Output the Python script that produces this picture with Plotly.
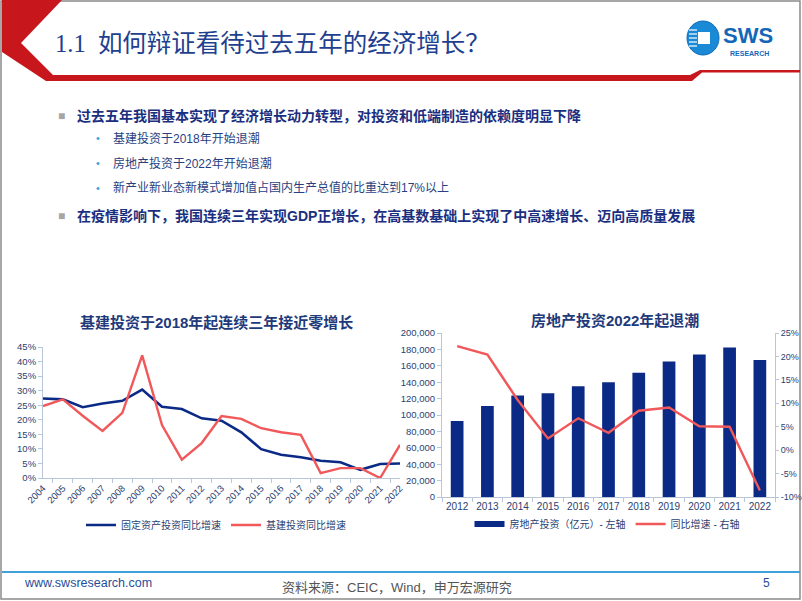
import plotly.graph_objects as go

W, H = 802, 601

# ---------------- data ----------------
years_left = [str(y) for y in range(2004, 2023)]
fai_growth = [27.3, 27.0, 24.3, 25.6, 26.5, 30.4, 24.5, 23.7, 20.5, 19.7,
              15.7, 9.9, 8.0, 7.1, 5.9, 5.4, 2.8, 4.8, 5.0]
infra_growth = [24.7, 27.0, 21.4, 16.2, 22.4, 42.1, 18.2, 6.3, 12.0, 21.3,
                20.3, 17.1, 15.7, 14.8, 1.7, 3.4, 3.4, 0.0, 11.4]

years_right = [str(y) for y in range(2012, 2023)]
re_invest = [92700, 111000, 123700, 126500, 135000, 140000, 151400,
             165300, 173900, 182400, 167000]
re_growth = [22.2, 20.4, 10.7, 2.5, 6.8, 3.7, 8.4, 9.1, 5.1, 5.0, -8.6]

left_ticks = [0, 5, 10, 15, 20, 25, 30, 35, 40, 45]
right_ticks_l = list(range(0, 200001, 20000))
right_ticks_r = [-10, -5, 0, 5, 10, 15, 20, 25]

# ---------------- styles ----------------
NAVY = "#0B2A86"
RED = "#F0585A"
TXT = "#2B4170"
AXC = "#B9C5D8"
FONT = "Liberation Sans, Noto Sans CJK SC, sans-serif"


def px(x):
    return x / W


def py(y):
    return 1 - y / H


fig = go.Figure()

# left chart lines
fig.add_trace(go.Scatter(x=years_left, y=fai_growth, mode="lines",
                         name="固定资产投资同比增速", line=dict(color=NAVY, width=2.6),
                         xaxis="x", yaxis="y", legend="legend", cliponaxis=False))
fig.add_trace(go.Scatter(x=years_left, y=infra_growth, mode="lines",
                         name="基建投资同比增速", line=dict(color=RED, width=2.4),
                         xaxis="x", yaxis="y", legend="legend", cliponaxis=False))

# right chart
fig.add_trace(go.Bar(x=years_right, y=re_invest, name="房地产投资（亿元）- 左轴",
                     marker=dict(color=NAVY, line=dict(width=0)), showlegend=False,
                     xaxis="x2", yaxis="y2"))
# legend entry for the bars drawn as a wide, thick swatch
fig.add_trace(go.Scatter(x=[None], y=[None], mode="lines",
                         name="房地产投资（亿元）- 左轴",
                         line=dict(color=NAVY, width=6),
                         xaxis="x2", yaxis="y2", legend="legend2"))
fig.add_trace(go.Scatter(x=years_right, y=re_growth, mode="lines",
                         name="同比增速 - 右轴", line=dict(color=RED, width=2.4),
                         xaxis="x2", yaxis="y3", legend="legend2", cliponaxis=False))


def axis_common(size=9.5, ticklen=4):
    return dict(showgrid=False, zeroline=False, showline=True, linecolor=AXC,
                linewidth=1, tickfont=dict(size=size, color=TXT, family=FONT),
                ticks="outside", tickcolor=AXC, ticklen=ticklen, automargin=False)


fig.update_layout(
    width=W, height=H,
    margin=dict(l=0, r=0, t=0, b=0, pad=0, autoexpand=False),
    paper_bgcolor="white", plot_bgcolor="rgba(0,0,0,0)",
    font=dict(family=FONT, color=TXT),
    showlegend=True, bargap=0.58,
    xaxis=dict(domain=[px(43), px(400)], anchor="y", type="category",
               tickangle=-45, tickson="boundaries", **axis_common()),
    yaxis=dict(domain=[py(478), py(347)], anchor="x", range=[0, 45],
               tickvals=left_ticks, ticktext=[f"{v}%" for v in left_ticks],
               **axis_common()),
    xaxis2=dict(domain=[px(442), px(775)], anchor="y2", type="category",
                categoryorder="array", categoryarray=years_right,
                tickangle=0, tickson="boundaries", **axis_common(10)),
    yaxis2=dict(domain=[py(497), py(333)], anchor="x2", range=[0, 200000],
                tickvals=right_ticks_l, tickformat=",", **axis_common(9.5)),
    yaxis3=dict(overlaying="y2", side="right", anchor="x2", range=[-10, 25],
                tickvals=right_ticks_r, ticktext=[f"{v}%" for v in right_ticks_r],
                **axis_common(9, 3)),
    legend=dict(orientation="h", x=px(216), xanchor="center", y=py(525),
                yanchor="middle", font=dict(size=10, color=TXT, family=FONT),
                bgcolor="rgba(0,0,0,0)", itemwidth=30, tracegroupgap=0),
    legend2=dict(orientation="h", x=px(607), xanchor="center", y=py(524),
                 yanchor="middle", font=dict(size=10, color=TXT, family=FONT),
                 bgcolor="rgba(0,0,0,0)", itemwidth=30, tracegroupgap=0),
)

shapes = []
# slide frame
shapes.append(dict(type="rect", xref="paper", yref="paper", x0=px(1), x1=px(800),
                   y0=py(599), y1=py(1), line=dict(color="#8A8A8A", width=1.5),
                   fillcolor="rgba(0,0,0,0)", layer="below"))
# red header chevron + band
path = ("M {} {} L {} {} L {} {} L {} {} L {} {} L {} {} L {} {} L {} {} "
        "L {} {} L {} {} L {} {} L {} {} Z").format(
    px(2), py(0), px(62), py(0), px(21), py(43), px(53), py(75),
    px(690), py(75), px(700), py(70), px(800), py(70), px(800), py(72.5),
    px(702), py(72.5), px(692), py(81), px(46), py(81), px(2), py(52))
shapes.append(dict(type="path", xref="paper", yref="paper", path=path,
                   fillcolor="#C8161D", line=dict(width=0)))
# logo circle
shapes.append(dict(type="circle", xref="paper", yref="paper",
                   x0=px(687), x1=px(719), y0=py(55), y1=py(21),
                   fillcolor="#1B8AD6", line=dict(color="#0E6CB8", width=1)))
shapes.append(dict(type="rect", xref="paper", yref="paper",
                   x0=px(698), x1=px(710), y0=py(44), y1=py(32),
                   fillcolor="white", line=dict(width=0)))
for yy in [30, 34, 38, 42, 46]:
    shapes.append(dict(type="line", xref="paper", yref="paper",
                       x0=px(689), x1=px(697), y0=py(yy), y1=py(yy),
                       line=dict(color="white", width=1.2)))
# footer line
shapes.append(dict(type="line", xref="paper", yref="paper", x0=px(2), x1=px(800),
                   y0=py(572), y1=py(572), line=dict(color="#3FA0DA", width=2)))
fig.update_layout(shapes=shapes)

ann = []


def add_text(text, x, y, size, color, bold=False, xanchor="left", family=FONT):
    t = f"<b>{text}</b>" if bold else text
    ann.append(dict(text=t, x=px(x), y=py(y), xref="paper", yref="paper",
                    xanchor=xanchor, yanchor="middle", showarrow=False,
                    font=dict(size=size, color=color, family=family)))


add_text("1.1  如何辩证看待过去五年的经济增长？", 53, 43, 24.5, "#1F3F8F",
         family="Liberation Serif, Noto Sans CJK SC, serif")
add_text("SWS", 721, 36, 22, "#1467B8", bold=True)
add_text("RESEARCH", 728, 53, 7, "#1467B8", bold=True)

add_text("■", 56, 116, 12, "#A6A6A6")
add_text("过去五年我国基本实现了经济增长动力转型，对投资和低端制造的依赖度明显下降",
         75, 116, 14, "#1A2F80", bold=True)
add_text("•", 94, 138, 11, "#3FA0DA")
add_text("基建投资于2018年开始退潮", 111, 138, 12, "#2A3F7F")
add_text("•", 94, 163, 11, "#3FA0DA")
add_text("房地产投资于2022年开始退潮", 111, 163, 12, "#2A3F7F")
add_text("•", 94, 188, 11, "#3FA0DA")
add_text("新产业新业态新模式增加值占国内生产总值的比重达到17%以上", 111, 188, 12, "#2A3F7F")
add_text("■", 56, 216, 12, "#A6A6A6")
add_text("在疫情影响下，我国连续三年实现GDP正增长，在高基数基础上实现了中高速增长、迈向高质量发展",
         75, 216, 14, "#1A2F80", bold=True)

add_text("基建投资于2018年起连续三年接近零增长", 216, 322, 15, "#1F3A7A", bold=True,
         xanchor="center")
add_text("房地产投资2022年起退潮", 615, 320, 15, "#1F3A7A", bold=True,
         xanchor="center")

add_text("www.swsresearch.com", 22, 583, 12.5, "#1F4E9A")
add_text("资料来源：CEIC，Wind，申万宏源研究", 280, 587, 13, "#555555")
add_text("5", 761, 583, 12, "#1F4E9A")

fig.update_layout(annotations=ann)

fig.write_html("out.html", config={"displayModeBar": False},
               post_script="document.body.style.margin='0';")
